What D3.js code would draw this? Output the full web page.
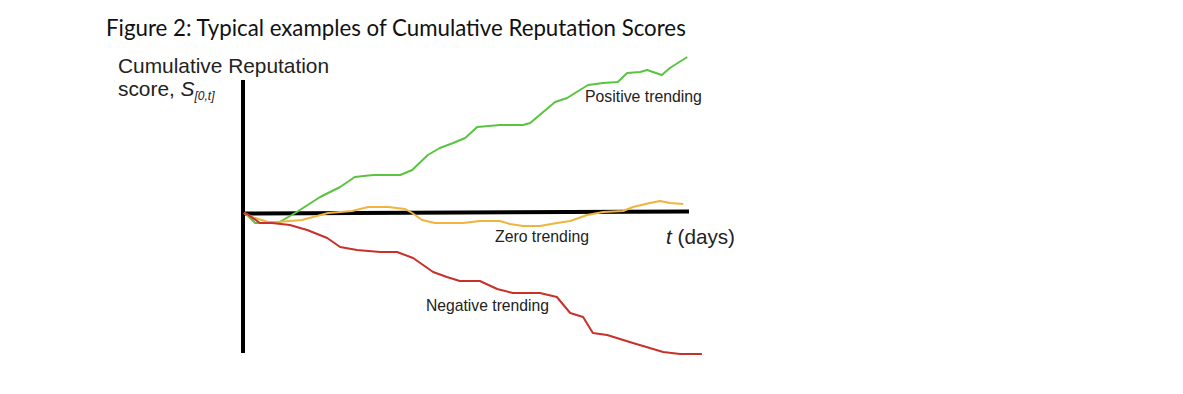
<!DOCTYPE html>
<html>
<head>
<meta charset="utf-8">
<script src="https://cdn.jsdelivr.net/npm/d3@7"></script>
<style>
  html, body { margin: 0; padding: 0; background: #fff; }
  svg { display: block; }
</style>
</head>
<body>
<div id="chart"></div>
<script>
// Hand-drawn curves as [day, score] pairs (score 0 = time axis)
const positive = [
    [0, 0], [0.7, -2], [2.5, -10], [7.6, -10], [11.5, 0], [17.1, 16], [21.6, 26],
    [24.9, 36], [29.0, 38], [35.1, 38], [37.8, 43], [41.3, 58], [44.0, 65], [47.0, 70],
    [49.7, 75], [52.4, 86], [57.5, 88], [62.7, 88], [64.3, 90], [69.9, 111], [72.6, 115],
    [77.3, 128], [80.7, 130], [84.0, 131], [86.1, 140], [89.0, 141], [90.6, 143],
    [91.9, 141], [93.9, 138], [95.7, 145], [99.6, 156]
];
const zero = [
    [0, 0], [1.8, -4], [5.4, -9], [7.6, -9], [13.0, -7], [18.9, 0], [24.3, 2], [27.9, 6],
    [32.4, 6], [36.2, 4], [37.8, 0], [40.0, -7], [42.9, -10], [49.2, -10], [53.0, -8],
    [57.5, -8], [59.8, -11], [62.7, -13], [66.5, -13], [70.3, -10], [73.3, -8], [77.1, -2],
    [80.7, 1], [85.2, 2], [87.4, 6], [91.2, 10], [93.5, 12], [95.7, 10], [98.7, 9]
];
const negative = [
    [0, 0], [0.7, -1], [3.6, -10], [6.3, -10], [10.3, -12], [14.2, -17], [18.7, -25],
    [21.6, -34], [25.4, -37], [30.6, -39], [34.4, -39], [38.0, -45], [42.5, -59],
    [45.6, -64], [48.5, -68], [53.0, -68], [56.9, -76], [60.4, -80], [66.5, -80],
    [70.3, -84], [73.3, -100], [76.2, -104], [78.4, -120], [81.6, -122], [87.4, -130],
    [94.2, -139], [98.0, -141], [102.9, -141]
];
const seriesNames = ['Positive trending', 'Zero trending', 'Negative trending'];
const seriesColors = ['#5ac440', '#eeb43e', '#c8302a'];
const seriesData = [positive, zero, negative];

const width = 1183;
const height = 394;

const svg = d3.select('#chart')
    .append('svg')
    .attr('width', width)
    .attr('height', height);

const x = d3.scaleLinear().domain([0, 100]).range([244, 689]);
const y = d3.scaleLinear().domain([-141, 133]).range([354, 80]);

// scale a text node so it spans the given width
function fitWidth(sel, w) {
    const node = sel.node();
    const fs = parseFloat(sel.style('font-size'));
    const len = node.getComputedTextLength();
    sel.style('font-size', (fs * w / len).toFixed(2) + 'px');
}

// Title
svg.append('text')
    .attr('x', 106)
    .attr('y', 36)
    .style('font-family', 'Lato, "Open Sans", sans-serif')
    .style('font-size', '20px')
    .style('fill', '#111')
    .text('Figure 2: Typical examples of Cumulative Reputation Scores')
    .call(fitWidth, 580);

// Y label
const yl = svg.append('g')
    .style('font-family', '"Liberation Sans", Arial, sans-serif')
    .style('fill', '#222');
const firstLine = yl.append('text')
    .attr('x', 118)
    .attr('y', 73)
    .style('font-size', '17px')
    .text('Cumulative Reputation')
    .call(fitWidth, 211);
const sLine = yl.append('text')
    .attr('x', 118)
    .attr('y', 96)
    .style('font-size', firstLine.style('font-size'));
sLine.append('tspan').text('score, ');
sLine.append('tspan').style('font-style', 'italic').text('S');
sLine.append('tspan')
    .attr('dy', 4)
    .style('font-size', '12px')
    .style('font-style', 'italic')
    .text('[0,t]');

// Axes (plain thick strokes, no ticks)
svg.append('line')
    .attr('x1', x(0) - 1).attr('x2', x(0) - 1)
    .attr('y1', y.range()[1]).attr('y2', y.range()[0] - 1)
    .attr('stroke', '#000')
    .attr('stroke-width', 4);
svg.append('line')
    .attr('x1', x(0) - 1).attr('x2', x(100))
    .attr('y1', y(0) + 0.5).attr('y2', y(0) - 1.5)
    .attr('stroke', '#000')
    .attr('stroke-width', 4);

// X label
const xl = svg.append('text')
    .attr('x', 666)
    .attr('y', 244)
    .style('font-family', '"Liberation Sans", Arial, sans-serif')
    .style('font-size', '18px')
    .style('fill', '#222');
xl.append('tspan').style('font-style', 'italic').text('t');
xl.append('tspan').text(' (days)');
fitWidth(xl, 69);

// Curves
const line = d3.line()
    .x(d => x(d[0]))
    .y(d => y(d[1]))
    .curve(d3.curveLinear);

svg.selectAll('path.series')
    .data(seriesData)
    .enter().append('path')
    .attr('class', 'series')
    .attr('d', line)
    .attr('fill', 'none')
    .attr('stroke', (d, i) => seriesColors[i])
    .attr('stroke-width', 2)
    .attr('stroke-linejoin', 'round');

// Series labels
const labelPos = [[585, 102, 117], [495, 242, 94], [426, 311, 123]];
svg.selectAll('text.series-label')
    .data(seriesNames)
    .enter().append('text')
    .attr('class', 'series-label')
    .attr('x', (d, i) => labelPos[i][0])
    .attr('y', (d, i) => labelPos[i][1])
    .style('font-family', '"Liberation Sans", Arial, sans-serif')
    .style('font-size', '13px')
    .style('fill', '#222')
    .text(d => d)
    .each(function(d, i) { fitWidth(d3.select(this), labelPos[i][2]); });
</script>
</body>
</html>
